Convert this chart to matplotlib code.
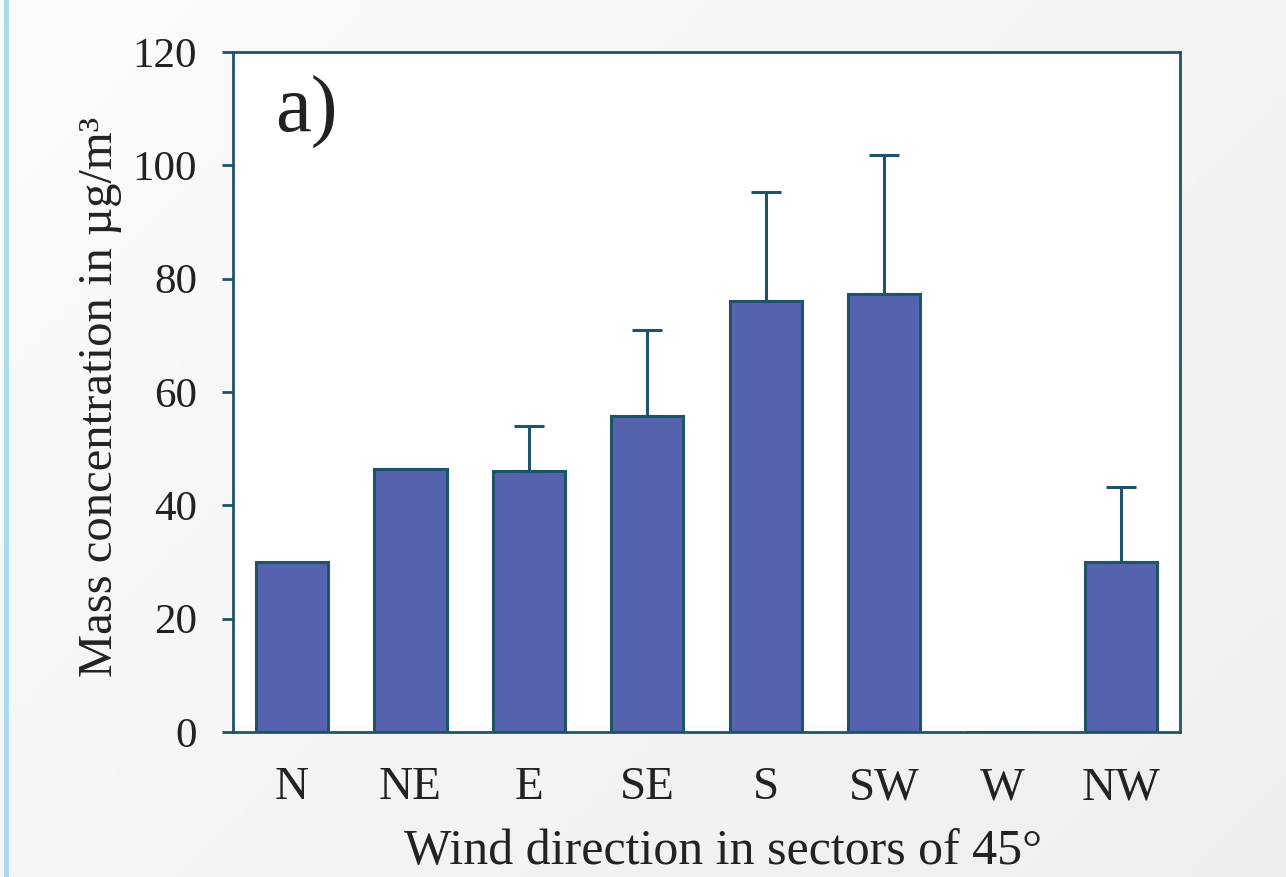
import numpy as np
import matplotlib
matplotlib.use("Agg")
import matplotlib.pyplot as plt
from matplotlib.lines import Line2D

categories = ["N", "NE", "E", "SE", "S", "SW", "W", "NW"]
means = [30.0, 46.4, 46.0, 55.8, 76.1, 77.3, 0.0, 30.0]
err_upper = [0.0, 0.0, 8.0, 15.2, 19.2, 24.5, 0.0, 13.2]
yticks = [0, 20, 40, 60, 80, 100, 120]

plt.rcParams['font.family'] = ['Liberation Serif', 'DejaVu Serif']

fig = plt.figure(figsize=(12.86, 8.77), dpi=100)

# background gradient
bg = fig.add_axes([0, 0, 1, 1], zorder=-10)
xx, yy = np.meshgrid(np.linspace(0, 1, 200), np.linspace(0, 1, 200))
grad = 0.985 - 0.05 * (0.6 * xx + 0.4 * yy)
bg.imshow(np.dstack([grad, grad, grad]), extent=[0, 1, 0, 1], aspect='auto', origin='upper')
bg.axis('off')
fig.add_artist(Line2D([0.0045, 0.0045], [0, 1], color='#A9DAF3', lw=3.5, transform=fig.transFigure))

ax = fig.add_axes([233/1286, 1-732/877, (1180-233)/1286, (732-52)/877])
ax.set_facecolor('white')

edge = '#1E5468'
x = np.arange(len(categories))
ax.bar(x, means, width=0.61, color='#5563AE', edgecolor=edge, linewidth=2.2, zorder=2)
yerr = np.array([np.zeros(len(err_upper)), err_upper])
mask = np.array(err_upper) > 0
ax.errorbar(x[mask], np.array(means)[mask], yerr=yerr[:, mask], fmt='none',
            ecolor=edge, elinewidth=2.2, capsize=11, capthick=2.2, zorder=3)

ax.set_xlim(-0.5, 7.5)
ax.set_ylim(0, 120)
ax.set_yticks(yticks)
ax.set_xticks(x)
ax.set_xticklabels(categories)
for s in ax.spines.values():
    s.set_color(edge)
    s.set_linewidth(2.0)
ax.tick_params(axis='y', length=8, width=2, color=edge, pad=18, labelsize=31, labelcolor='#222222')
ax.tick_params(axis='x', length=0, pad=25, labelsize=34, labelcolor='#222222')

ax.text(0.045, 0.965, "a)", transform=ax.transAxes, fontsize=58, va='top', ha='left', color='#222222')

ax.set_ylabel("Mass concentration in µg/m³", fontsize=35, color='#222222')
ax.yaxis.set_label_coords(-0.14, 0.493)
ax.yaxis.label.set_va('center')
ax.set_xlabel("Wind direction in sectors of 45°", fontsize=36, color='#222222')
ax.xaxis.set_label_coords(0.517, -0.176)
ax.xaxis.label.set_va('center')

fig.savefig("out.png", dpi=100)
